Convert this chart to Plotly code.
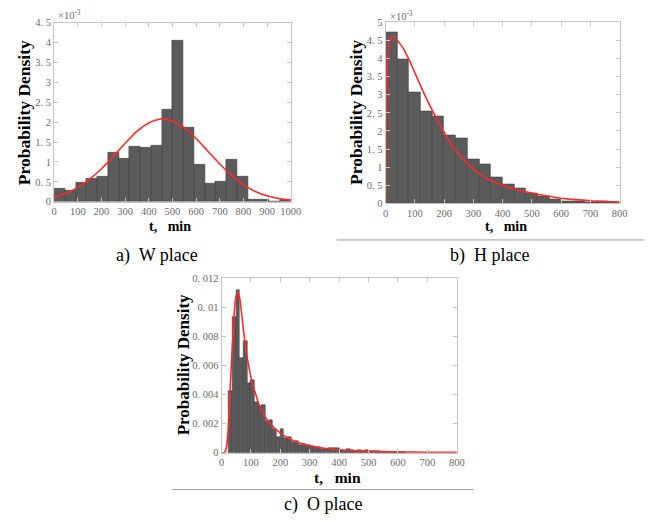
import numpy as np
import plotly.graph_objects as go

W, H = 655, 522

# ---------------- data ----------------
# a) W place : histogram (22 equal bins over 0-1000 min), density in 1e-3 units
w_range = (0, 1000)
w_density_e3 = [0.34, 0.27, 0.48, 0.57, 0.62, 1.24, 1.09, 1.38, 1.35, 1.40, 2.32,
                4.06, 1.86, 0.94, 0.46, 0.50, 1.06, 0.63, 0.06, 0.06, 0.01, 0.05]
w_fit_t = [0, 50, 100, 150, 200, 250, 300, 350, 400, 450, 500, 550, 600, 650,
           700, 750, 800, 850, 900, 950, 1000]
w_fit_e3 = [0.12, 0.21, 0.36, 0.57, 0.83, 1.14, 1.47, 1.77, 1.98, 2.08, 2.03,
            1.86, 1.59, 1.27, 0.95, 0.67, 0.43, 0.26, 0.15, 0.08, 0.04]

# b) H place : histogram (20 bins of 40 min over 0-800), density in 1e-3 units
h_range = (0, 800)
h_density_e3 = [4.72, 3.99, 3.07, 2.53, 2.41, 1.87, 1.80, 1.23, 1.07, 0.73,
                0.54, 0.41, 0.27, 0.20, 0.125, 0.07, 0.05, 0.03, 0.05, 0.02]
h_fit_t = [0, 1, 2.5, 5, 9, 13, 19, 25, 36, 58, 80, 103, 125, 147, 170, 192, 214,
           237, 259, 281, 304, 326, 348, 371, 393, 415, 450, 500, 550, 600, 650,
           700, 750, 800]
h_fit_e3 = [0.0, 1.6, 2.9, 3.75, 4.25, 4.48, 4.58, 4.61, 4.54, 4.31, 3.97, 3.55,
            3.15, 2.77, 2.41, 2.08, 1.77, 1.50, 1.28, 1.10, 0.92, 0.79, 0.68, 0.59,
            0.52, 0.46, 0.38, 0.29, 0.21, 0.145, 0.105, 0.075, 0.055, 0.04]

# c) O place : histogram (bins of 12.5 min starting at 25 min), density
o_start, o_width = 25, 12.5
o_density = [0.0042, 0.0093, 0.0112, 0.0065, 0.0077, 0.0048, 0.0050, 0.0035,
             0.0032, 0.0033, 0.0022, 0.00225, 0.0016, 0.00105, 0.0016, 0.0010,
             0.0011, 0.0007, 0.0008, 0.0005, 0.0006, 0.0005, 0.00048, 0.0004,
             0.00038, 0.00027, 0.00025, 0.0003, 0.00028, 0.0003, 0.00015, 0.00012,
             0.00025, 0.0002, 0.00012, 0.00015, 0.0001, 0.00015, 0.00012, 0.0001,
             0.00008, 0.00005, 0.00004, 0.00002, 0.00003, 0.00001, 0.00002, 0.00001]
o_fit_t = [0, 10, 16, 22, 27.7, 33, 39, 44, 50, 55.5, 61, 66.5, 72, 83, 94, 105,
           116.5, 127.5, 150, 172, 194, 216, 250, 283, 305, 350, 400, 450, 500,
           600, 700, 800]
o_fit = [0.0, 0.00002, 0.0003, 0.0014, 0.0036, 0.0059, 0.0081, 0.0098, 0.0108,
         0.01105, 0.0107, 0.0099, 0.0089, 0.0071, 0.0058, 0.00476, 0.0040, 0.0033,
         0.0024, 0.00184, 0.00144, 0.00112, 0.00079, 0.00056, 0.00045, 0.0003,
         0.0002, 0.00014, 0.0001, 0.00005, 0.00003, 0.00002]

# tick labels
w_yticks = [0, 0.5, 1, 1.5, 2, 2.5, 3, 3.5, 4, 4.5]
w_yticktext = ["0", "0. 5", "1", "1. 5", "2", "2. 5", "3", "3. 5", "4", "4. 5"]
h_yticks = [0, 0.5, 1, 1.5, 2, 2.5, 3, 3.5, 4, 4.5, 5]
h_yticktext = ["0", "0. 5", "1", "1. 5", "2", "2. 5", "3", "3. 5", "4", "4. 5", "5"]
o_yticks = [0, 0.002, 0.004, 0.006, 0.008, 0.010, 0.012]
o_yticktext = ["0", "0. 002", "0. 004", "0. 006", "0. 008", "0. 01", "0. 012"]
w_xticks = list(range(0, 1001, 100))
h_xticks = list(range(0, 801, 100))

captions = ["a)  W place", "b)  H place", "c)  O place"]
x_title = "t,   min"
y_title = "Probability Density"

# ---------------- styling helpers ----------------
SERIF = "Liberation Serif, Times New Roman, serif"
BAR_FILL = "#5b5b5b"
BAR_EDGE = "#404040"
FIT_RED = "#ff2a2a"
FRAME = "#c4c4c4"
TICKFONT = dict(family=SERIF, size=10.5, color="#6a6a6a")


def px_x(p):
    return p / W


def px_y(p):
    return 1 - p / H


panels = {
    "a": dict(x0=52.3, x1=294.0, y0=18.0, y1=201.0),
    "b": dict(x0=391.0, x1=630.0, y0=17.7, y1=202.7),
    "c": dict(x0=223.3, x1=463.7, y0=279.0, y1=457.3),
}

fig = go.Figure()


def add_hist(edges, heights, xa, ya):
    edges = np.asarray(edges, dtype=float)
    centers = (edges[:-1] + edges[1:]) / 2
    widths = np.diff(edges)
    fig.add_trace(go.Bar(x=centers, y=heights, width=widths, xaxis=xa, yaxis=ya,
                         marker=dict(color=BAR_FILL, line=dict(color=BAR_EDGE, width=0.6)),
                         showlegend=False))


def add_fit(t, f, xa, ya):
    fig.add_trace(go.Scatter(x=t, y=f, mode="lines", xaxis=xa, yaxis=ya,
                             line=dict(color=FIT_RED, width=1.6, shape="spline", smoothing=0.8),
                             showlegend=False))


w_edges = np.linspace(w_range[0], w_range[1], len(w_density_e3) + 1)
h_edges = np.linspace(h_range[0], h_range[1], len(h_density_e3) + 1)
o_edges = o_start + o_width * np.arange(len(o_density) + 1)

add_hist(w_edges, w_density_e3, "x", "y")
add_fit(w_fit_t, w_fit_e3, "x", "y")
add_hist(h_edges, h_density_e3, "x2", "y2")
add_fit(h_fit_t, h_fit_e3, "x2", "y2")
add_hist(o_edges, o_density, "x3", "y3")
add_fit(o_fit_t, o_fit, "x3", "y3")


def axis_common():
    return dict(showline=True, linecolor=FRAME, linewidth=1, mirror="ticks",
                ticks="inside", ticklen=4, tickcolor=FRAME, tickwidth=1,
                showgrid=False, zeroline=False, tickfont=TICKFONT, fixedrange=True)


layout_axes = {}
for i, (key, xr, xt, yr, yt, ytt) in enumerate([
    ("a", [0, 1000], w_xticks, [0, 4.5], w_yticks, w_yticktext),
    ("b", [0, 800], h_xticks, [0, 5], h_yticks, h_yticktext),
    ("c", [0, 800], h_xticks, [0, 0.012], o_yticks, o_yticktext),
]):
    p = panels[key]
    sfx = "" if i == 0 else str(i + 1)
    xa = axis_common()
    xa.update(domain=[px_x(p["x0"]), px_x(p["x1"])], range=xr, tickvals=xt,
              ticktext=[str(v) for v in xt], anchor="y" + sfx)
    ya = axis_common()
    ya.update(domain=[px_y(p["y1"]), px_y(p["y0"])], range=yr, tickvals=yt,
              ticktext=ytt, anchor="x" + sfx)
    layout_axes["xaxis" + sfx] = xa
    layout_axes["yaxis" + sfx] = ya

annotations = []


def note(text, x, y, size, bold=False, angle=0, color="#000", xanchor="center"):
    if bold:
        text = "<b>" + text + "</b>"
    annotations.append(dict(text=text, x=px_x(x), y=px_y(y), xref="paper", yref="paper",
                            showarrow=False, textangle=angle, xanchor=xanchor,
                            yanchor="middle", font=dict(family=SERIF, size=size, color=color)))


# y-axis titles
note(y_title, 21, 110, 17.5, bold=True, angle=-90)
note(y_title, 360, 110, 17.5, bold=True, angle=-90)
note(y_title, 184, 368, 17, bold=True, angle=-90)
# x-axis titles
note(x_title, 171, 226, 14, bold=True)
note(x_title, 514, 226, 14, bold=True)
note(x_title, 342, 483, 15.5, bold=True)
# exponent markers
note("×10<sup>-3</sup>", 54, 10, 10.5, color="#6a6a6a", xanchor="left")
note("×10<sup>-3</sup>", 393, 11, 10.5, color="#6a6a6a", xanchor="left")
# captions
note(captions[0], 157, 256, 18)
note(captions[1], 497, 256, 18)
note(captions[2], 327, 510, 18)

shapes = [
    dict(type="line", xref="paper", yref="paper", x0=px_x(341), x1=px_x(655),
         y0=px_y(240), y1=px_y(240), line=dict(color="#9a9a9a", width=1)),
    dict(type="line", xref="paper", yref="paper", x0=px_x(173), x1=px_x(481),
         y0=px_y(495), y1=px_y(495), line=dict(color="#9a9a9a", width=1)),
]

fig.update_layout(width=W, height=H, margin=dict(l=0, r=0, t=0, b=0),
                  paper_bgcolor="white", plot_bgcolor="white", bargap=0,
                  annotations=annotations, shapes=shapes, **layout_axes)

fig.write_html("out.html", config={"displayModeBar": False})
